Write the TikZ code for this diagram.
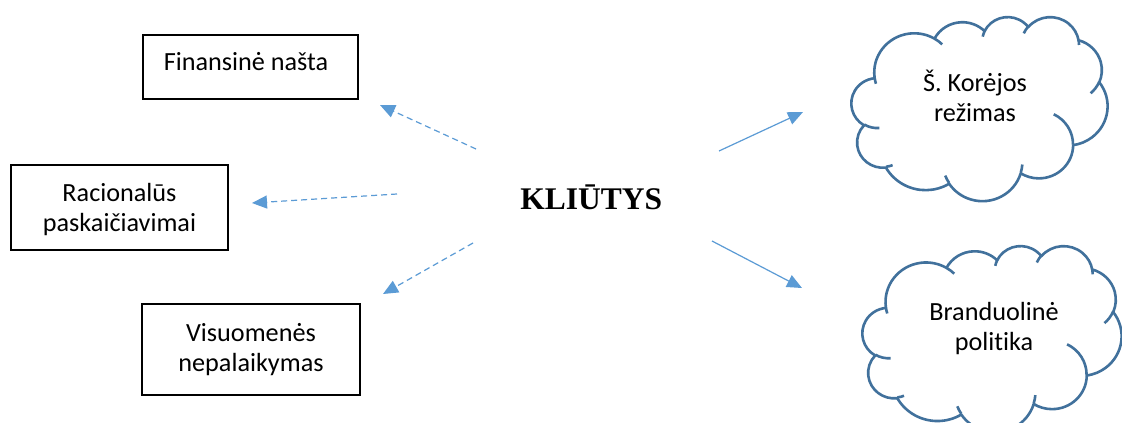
\documentclass[tikz,border=0pt]{standalone}
\usepackage{fontspec}
\usepackage{tikz}
\setmainfont{Carlito}[Ligatures={NoCommon,NoContextual}]
\newfontfamily\klfont{Liberation Serif}
\usetikzlibrary{arrows.meta}
\definecolor{cloudblue}{HTML}{41719C}
\definecolor{arrowblue}{HTML}{5B9BD5}

\newcommand\cldcalc[5]{%
  \pgfmathsetmacro\cldtmpa{atan2((#2)*sin(#4),(#3)*cos(#4))}%
  \pgfmathsetmacro\cldtmpb{atan2((#2)*sin((#4)+(#5)),(#3)*cos((#4)+(#5)))}%
  \pgfmathsetmacro\cldtmpd{mod((\cldtmpb)-(\cldtmpa)+720,360)}%
  \pgfmathsetmacro\cldtmps{0-(\cldtmpa)}%
  \pgfmathsetmacro\cldtmpe{0-(\cldtmpa)-(\cldtmpd)}%
  \expandafter\xdef\csname cldS#1\endcsname{\cldtmps}%
  \expandafter\xdef\csname cldE#1\endcsname{\cldtmpe}%
}
\cldcalc{a}{67.53}{91.90}{-190.48748}{123.78053}
\cldcalc{b}{53.33}{72.67}{-144.10238}{89.94523}
\cldcalc{c}{43.65}{59.45}{-145.80792}{99.72302}
\cldcalc{d}{48.57}{65.95}{-130.98607}{117.24173}
\cldcalc{e}{53.33}{72.73}{-78.70888}{109.02692}
\cldcalc{f}{67.75}{92.20}{-46.26725}{130.26900}
\cldcalc{g}{57.85}{78.67}{0.62502}{114.03333}
\cldcalc{h}{67.52}{92.15}{22.45160}{115.17255}
\cldcalc{i}{77.20}{105.43}{66.24263}{75.71102}
\cldcalc{j}{43.60}{59.18}{-274.94208}{146.73557}
\cldcalc{k}{43.45}{59.45}{-246.82850}{152.51885}
\cldcalc{ia}{43.45}{59.45}{86.74200}{26.42950}
\cldcalc{ib}{43.60}{59.18}{73.61047}{11.44747}
\cldcalc{ic}{67.52}{92.15}{137.62415}{14.08110}
\cldcalc{id}{67.52}{92.15}{6.45327}{15.99835}
\cldcalc{ie}{57.85}{78.67}{-70.29235}{70.91737}
\cldcalc{if}{53.33}{72.73}{30.31803}{27.75150}
\cldcalc{ig}{48.57}{65.95}{-13.74433}{14.85890}
\cldcalc{ih}{48.57}{65.95}{-149.18145}{18.19537}
\cldcalc{ii}{43.65}{59.45}{-163.49427}{17.68635}
\cldcalc{ij}{67.53}{91.90}{-66.70695}{12.31935}
\cldcalc{ik}{67.53}{91.90}{157.65435}{11.85817}

\newcommand\drawcloud[4]{%
\pgfmathsetmacro\csx{#3/432}\pgfmathsetmacro\csy{#4/432}%
\begin{scope}[shift={(#1,#2)}, x=\csx pt, y=-\csy pt]
\draw[cloudline, fill=white] (39.00,143.70)
  arc[start angle=\cldSa, end angle=\cldEa, x radius=67.53*\csx pt, y radius=91.90*\csy pt]
  arc[start angle=\cldSb, end angle=\cldEb, x radius=53.33*\csx pt, y radius=72.67*\csy pt]
  arc[start angle=\cldSc, end angle=\cldEc, x radius=43.65*\csx pt, y radius=59.45*\csy pt]
  arc[start angle=\cldSd, end angle=\cldEd, x radius=48.57*\csx pt, y radius=65.95*\csy pt]
  arc[start angle=\cldSe, end angle=\cldEe, x radius=53.33*\csx pt, y radius=72.73*\csy pt]
  arc[start angle=\cldSf, end angle=\cldEf, x radius=67.75*\csx pt, y radius=92.20*\csy pt]
  arc[start angle=\cldSg, end angle=\cldEg, x radius=57.85*\csx pt, y radius=78.67*\csy pt]
  arc[start angle=\cldSh, end angle=\cldEh, x radius=67.52*\csx pt, y radius=92.15*\csy pt]
  arc[start angle=\cldSi, end angle=\cldEi, x radius=77.20*\csx pt, y radius=105.43*\csy pt]
  arc[start angle=\cldSj, end angle=\cldEj, x radius=43.60*\csx pt, y radius=59.18*\csy pt]
  arc[start angle=\cldSk, end angle=\cldEk, x radius=43.45*\csx pt, y radius=59.45*\csy pt]
  -- cycle;
\draw[cloudline]
  (46.93,261.77) arc[start angle=\cldSia, end angle=\cldEia, x radius=43.45*\csx pt, y radius=59.45*\csy pt]
  (69.28,348.99) arc[start angle=\cldSib, end angle=\cldEib, x radius=43.60*\csx pt, y radius=59.18*\csy pt]
  (164.78,390.90) arc[start angle=\cldSic, end angle=\cldEic, x radius=67.52*\csx pt, y radius=92.15*\csy pt]
  (288.27,347.51) arc[start angle=\cldSid, end angle=\cldEid, x radius=67.52*\csx pt, y radius=92.15*\csy pt]
  (341.29,229.54) arc[start angle=\cldSie, end angle=\cldEie, x radius=57.85*\csx pt, y radius=78.67*\csy pt]
  (417.98,153.54) arc[start angle=\cldSif, end angle=\cldEif, x radius=53.33*\csx pt, y radius=72.73*\csy pt]
  (383.24,54.26) arc[start angle=\cldSig, end angle=\cldEig, x radius=48.57*\csx pt, y radius=65.95*\csy pt]
  (290.78,39.52) arc[start angle=\cldSih, end angle=\cldEih, x radius=48.57*\csx pt, y radius=65.95*\csy pt]
  (221.41,47.20) arc[start angle=\cldSii, end angle=\cldEii, x radius=43.65*\csx pt, y radius=59.45*\csy pt]
  (140.00,51.92) arc[start angle=\cldSij, end angle=\cldEij, x radius=67.53*\csx pt, y radius=91.90*\csy pt]
  (41.27,157.89) arc[start angle=\cldSik, end angle=\cldEik, x radius=67.53*\csx pt, y radius=91.90*\csy pt];
\end{scope}}

\newcommand\strH[1]{\rule{0pt}{#1}}
\newcommand\strD[1]{\rule[-#1]{0pt}{#1}}

\begin{document}
\begin{tikzpicture}[x=1pt, y=-1pt,
  cloudline/.style={draw=cloudblue, line width=2.6pt, line join=round},
  boxnode/.style={draw=black, line width=2pt, inner sep=0pt, align=center,
    font=\fontsize{26.2}{30}\selectfont},
  txtnode/.style={inner sep=0pt, align=center, font=\fontsize{26.2}{30}\selectfont},
  solidarrow/.style={draw=arrowblue, line width=1.2pt, -{Triangle[length=15pt,width=13pt]}},
  dasharrow/.style={solidarrow, dash pattern=on 6pt off 4pt}]
\fill[white] (0,0) rectangle (1122,423);
\useasboundingbox (0,0) rectangle (1122,423);
\clip (0,0) rectangle (1122,423);

% boxes
\node[boxnode, minimum width=215pt, minimum height=64pt] (fin) at (250.5,67)
  {\rule[-16pt]{0pt}{38pt}Finansinė našta\hspace*{9pt}};
\node[boxnode, minimum width=217pt, minimum height=85pt] (rac) at (119.5,207.5)
  {\strH{25pt}Racionalūs\\\strD{6.6pt}paskaičiavimai};
\node[boxnode, minimum width=218pt, minimum height=91pt] (vis) at (251,349.5)
  {\strH{22pt}Visuomenės\\\strD{7.6pt}nepalaikymas};

% clouds
\drawcloud{851.5}{16.5}{256}{184}
\drawcloud{862.5}{245.5}{259}{186}
\node[txtnode] (kor) at (975,97.7) {\strH{24pt}Š. Korėjos\\\strD{6pt}režimas};
\node[txtnode] (bra) at (994,326) {\strH{24pt}Branduolinė\\\strD{6pt}politika};

% centre
\node[font=\klfont\bfseries\fontsize{31.5}{36}\selectfont, anchor=base, inner sep=0pt]
  (kl) at (591.3,209) {KLIŪTYS};

% arrow ends
\coordinate (a1s) at (476,149); \coordinate (a1e) at (380,105);
\coordinate (a2s) at (397,194); \coordinate (a2e) at (252,203);
\coordinate (a3s) at (473,243); \coordinate (a3e) at (383,294);
\coordinate (a4s) at (719,151); \coordinate (a4e) at (803,112);
\coordinate (a5s) at (712,241); \coordinate (a5e) at (802,288);

\draw[dasharrow] (a1s) -- (a1e);
\draw[dasharrow] (a2s) -- (a2e);
\draw[dasharrow] (a3s) -- (a3e);
\draw[solidarrow] (a4s) -- (a4e);
\draw[solidarrow] (a5s) -- (a5e);
\end{tikzpicture}
\end{document}
